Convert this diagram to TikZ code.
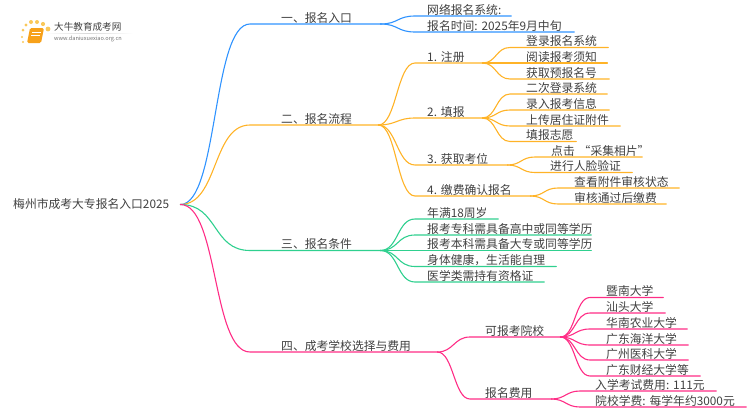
\documentclass[tikz,border=0pt]{standalone}
\usepackage{fontspec}
\setmainfont{Noto Sans CJK SC}
\usepackage{tikz}

\definecolor{bluebr}{HTML}{2F93FF}
\definecolor{orangebr}{HTML}{FFB327}
\definecolor{greenbr}{HTML}{2FD08F}
\definecolor{pinkbr}{HTML}{FF2D86}
\definecolor{inktext}{HTML}{404040}
\definecolor{sundot}{HTML}{F9C85A}
\definecolor{bookfill}{HTML}{F7A11A}

\tikzset{
	tag/.style n args={3}{anchor=south west,inner xsep=0pt,inner ysep=0.5pt,text width=#2,align=left,text height=9pt,text depth=1pt,text=inktext,font=\fontsize{11.8}{13}\selectfont,execute at begin node={\frenchspacing\hspace*{#1}}},
	branch/.style={out=0,in=180,distance=#1},
	limb/.style={line width=1.1pt,line cap=round},
}

\begin{document}
\begin{tikzpicture}[x=1pt,y=-1pt]
	\useasboundingbox (0,0) rectangle (750,410);

	\fill[sundot] (23,30) circle (1.5) (26,25) circle (1.7) (31,22) circle (2) (37,22) circle (2) (43,24) circle (2.1) (48,29) circle (2.4) (22,37) circle (1.2) (23,42) circle (1.1);
	\fill[bookfill,rounded corners=1.5pt] (30,28) -- (44,28) -- (41,43) -- (27,43) -- cycle;
	\draw[white,line width=.5pt] (32,32) -- (41,32) (31,35) -- (40,35);
	\shade[left color=white,right color=white,middle color=black!15] (45,33) rectangle (133,33.6);
	\node[anchor=west,inner sep=0pt,text=inktext,font=\fontsize{9.6}{11}\selectfont] (brand) at (54,27) {大牛教育成考网};
	\node[anchor=west,inner sep=0pt,text=black!55,font=\fontsize{5.6}{6}\selectfont] (site) at (54,39) {www.daniuxuexiao.org.cn};

	\node[tag={0pt}{167pt}{},anchor=west] (root) at (13,204.5) {梅州市成考大专报名入口2025};

	\node[tag={31pt}{130pt}{}] (one) at (250,24) {一、报名入口};
	\node[tag={31pt}{128pt}{}] (two) at (250,125) {二、报名流程};
	\node[tag={31pt}{130pt}{}] (three) at (250,250.5) {三、报名条件};
	\node[tag={31pt}{187pt}{}] (four) at (250,352) {四、成考学校选择与费用};

	\node[tag={12pt}{96pt}{}] (sys) at (415,16) {网络报名系统:};
	\node[tag={12pt}{159pt}{}] (date) at (415,32) {报名时间: 2025年9月中旬};

	\node[tag={12pt}{67pt}{}] (reg) at (415,63) {1. 注册};
	\node[tag={12pt}{67pt}{}] (fill) at (415,118) {2. 填报};
	\node[tag={12pt}{92pt}{}] (seat) at (415,165) {3. 获取考位};
	\node[tag={12pt}{115pt}{}] (pay) at (415,196) {4. 缴费确认报名};

	\node[tag={16pt}{98pt}{}] (login) at (510,47.5) {登录报名系统};
	\node[tag={16pt}{97pt}{}] (notice) at (510,63) {阅读报考须知};
	\node[tag={16pt}{99pt}{}] (prenum) at (510,79) {获取预报名号};

	\node[tag={16pt}{97pt}{}] (relog) at (510,94) {二次登录系统};
	\node[tag={16pt}{99pt}{}] (input) at (510,110) {录入报考信息};
	\node[tag={16pt}{110pt}{}] (upload) at (510,126) {上传居住证附件};
	\node[tag={16pt}{66pt}{}] (wish) at (510,141.5) {填报志愿};

	\node[tag={16pt}{107pt}{}] (photo) at (535,157) {\mbox{点击 “采集相片”}};
	\node[tag={15pt}{97pt}{}] (face) at (535,172.5) {进行人脸验证};

	\node[tag={16pt}{121pt}{}] (check) at (558,188) {查看附件审核状态};
	\node[tag={16pt}{108pt}{}] (paid) at (558,204) {审核通过后缴费};

	\node[tag={12pt}{83pt}{}] (age) at (415,219) {年满18周岁};
	\node[tag={12pt}{176pt}{}] (zhuan) at (415,235) {报考专科需具备高中或同等学历};
	\node[tag={12pt}{176pt}{}] (ben) at (415,250.5) {报考本科需具备大专或同等学历};
	\node[tag={12pt}{141pt}{}] (health) at (415,266.5) {身体健康，生活能自理};
	\node[tag={12pt}{129pt}{}] (cert) at (415,282) {医学类需持有资格证};

	\node[tag={15pt}{90pt}{}] (school) at (470,337) {可报考院校};
	\node[tag={15pt}{81pt}{}] (fee) at (470,399) {报名费用};

	\node[tag={16pt}{73pt}{}] (jinan) at (590,297.5) {暨南大学};
	\node[tag={16pt}{75pt}{}] (shantou) at (590,313) {汕头大学};
	\node[tag={16pt}{97pt}{}] (agri) at (590,329) {华南农业大学};
	\node[tag={16pt}{98pt}{}] (ocean) at (590,345) {广东海洋大学};
	\node[tag={16pt}{98pt}{}] (med) at (590,360) {广州医科大学};
	\node[tag={16pt}{110pt}{}] (fin) at (590,376) {广东财经大学等};

	\node[tag={15pt}{136pt}{}] (exam) at (580,391) {入学考试费用: 111元};
	\node[tag={15pt}{166pt}{}] (tuition) at (580,407) {\mbox{院校学费: 每学年约3000元}};

	\begin{scope}[limb,bluebr]
		\draw (root.east) to[branch=38pt] (one.south west) -- (one.south east);
		\draw (one.south east) to[branch=18pt] (sys.south west) -- (sys.south east);
		\draw (one.south east) to[branch=18pt] (date.south west) -- (date.south east);
	\end{scope}

	\begin{scope}[limb,orangebr]
		\draw (root.east) to[branch=38pt] (two.south west) -- (two.south east);
		\draw (two.south east) to[branch=18pt] (reg.south west) -- (reg.south east);
		\draw (two.south east) to[branch=18pt] (fill.south west) -- (fill.south east);
		\draw (two.south east) to[branch=18pt] (seat.south west) -- (seat.south east);
		\draw (two.south east) to[branch=18pt] (pay.south west) -- (pay.south east);
		\draw (reg.south east) to[branch=14pt] (login.south west) -- (login.south east);
		\draw (reg.south east) to[branch=14pt] (notice.south west) -- (notice.south east);
		\draw (reg.south east) to[branch=14pt] (prenum.south west) -- (prenum.south east);
		\draw (fill.south east) to[branch=14pt] (relog.south west) -- (relog.south east);
		\draw (fill.south east) to[branch=14pt] (input.south west) -- (input.south east);
		\draw (fill.south east) to[branch=14pt] (upload.south west) -- (upload.south east);
		\draw (fill.south east) to[branch=14pt] (wish.south west) -- (wish.south east);
		\draw (seat.south east) to[branch=14pt] (photo.south west) -- (photo.south east);
		\draw (seat.south east) to[branch=14pt] (face.south west) -- (face.south east);
		\draw (pay.south east) to[branch=14pt] (check.south west) -- (check.south east);
		\draw (pay.south east) to[branch=14pt] (paid.south west) -- (paid.south east);
	\end{scope}

	\begin{scope}[limb,greenbr]
		\draw (root.east) to[branch=38pt] (three.south west) -- (three.south east);
		\draw (three.south east) to[branch=18pt] (age.south west) -- (age.south east);
		\draw (three.south east) to[branch=18pt] (zhuan.south west) -- (zhuan.south east);
		\draw (three.south east) -- (ben.south west) -- (ben.south east);
		\draw (three.south east) to[branch=18pt] (health.south west) -- (health.south east);
		\draw (three.south east) to[branch=18pt] (cert.south west) -- (cert.south east);
	\end{scope}

	\begin{scope}[limb,pinkbr]
		\draw (root.east) to[branch=38pt] (four.south west) -- (four.south east);
		\draw (four.south east) to[branch=16pt] (school.south west) -- (school.south east);
		\draw (four.south east) to[branch=16pt] (fee.south west) -- (fee.south east);
		\draw (school.south east) to[branch=15pt] (jinan.south west) -- (jinan.south east);
		\draw (school.south east) to[branch=15pt] (shantou.south west) -- (shantou.south east);
		\draw (school.south east) to[branch=15pt] (agri.south west) -- (agri.south east);
		\draw (school.south east) to[branch=15pt] (ocean.south west) -- (ocean.south east);
		\draw (school.south east) to[branch=15pt] (med.south west) -- (med.south east);
		\draw (school.south east) to[branch=15pt] (fin.south west) -- (fin.south east);
		\draw (fee.south east) to[branch=14pt] (exam.south west) -- (exam.south east);
		\draw (fee.south east) to[branch=14pt] (tuition.south west) -- (tuition.south east);
	\end{scope}
\end{tikzpicture}
\end{document}
